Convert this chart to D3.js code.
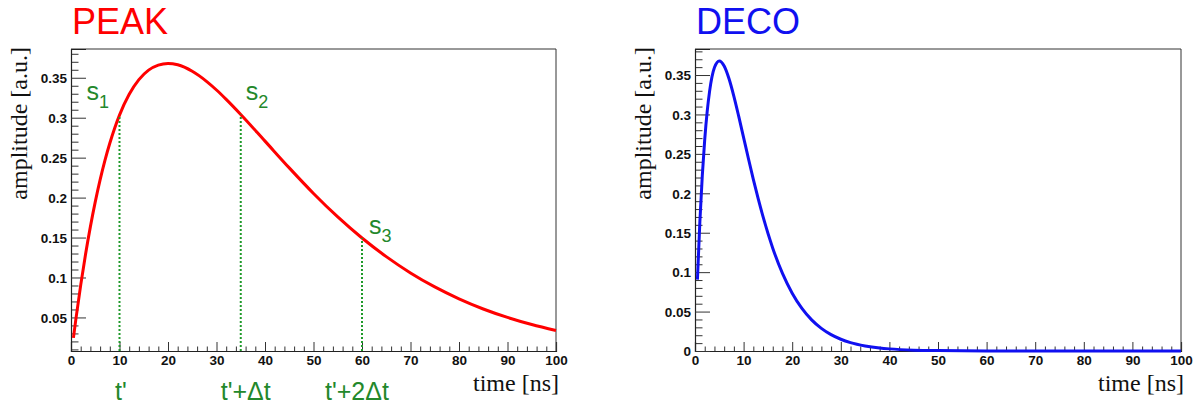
<!DOCTYPE html>
<html>
<head>
<meta charset="utf-8">
<script src="https://cdn.jsdelivr.net/npm/d3@7"></script>
<style>
  html, body { margin: 0; padding: 0; background: #fff; }
  svg { display: block; }
  .tick text { font-family: "Liberation Sans", Arial, sans-serif; font-weight: bold; font-size: 13.5px; fill: #111; }
  .serif { font-family: "Liberation Serif", "Times New Roman", serif; font-size: 24px; fill: #111; }
  .green { font-family: "Liberation Sans", Arial, sans-serif; fill: #23882b; }
</style>
</head>
<body>
<svg id="chart" width="1198" height="412"></svg>
<script>
// PEAK mode pulse shape (time in ns, amplitude in a.u.)
const peakTime = [0.5, 1, 2, 3, 4, 5, 6, 7, 8, 9, 10, 12, 14, 16, 18, 20, 22, 25, 28, 30, 32, 35, 40, 45, 50, 55, 60, 65, 70, 75, 80, 85, 90, 95, 100];
const peakAmp  = [0.0244, 0.0476, 0.0905, 0.1291, 0.1637, 0.1947, 0.2222, 0.2466, 0.2681, 0.2869, 0.3033, 0.3293, 0.3476, 0.3595, 0.3659, 0.3679, 0.3662, 0.3581, 0.3452, 0.3347, 0.3230, 0.3041, 0.2707, 0.2372, 0.2052, 0.1758, 0.1494, 0.1261, 0.1057, 0.0882, 0.0733, 0.0606, 0.0500, 0.0411, 0.0337];

// DECO mode pulse shape
const decoTime = [0.5, 1, 1.5, 2, 2.5, 3, 4, 5, 6, 7, 8, 9, 10, 11, 12, 13, 14, 16, 18, 20, 22, 24, 26, 28, 30, 32, 35, 38, 40, 45, 50, 60, 70, 80, 90, 100];
const decoAmp  = [0.0905, 0.1637, 0.2222, 0.2681, 0.3033, 0.3293, 0.3595, 0.3679, 0.3614, 0.3452, 0.3230, 0.2975, 0.2707, 0.2438, 0.2177, 0.1931, 0.1703, 0.1304, 0.0984, 0.0733, 0.0540, 0.0395, 0.0287, 0.0207, 0.0149, 0.0106, 0.0064, 0.0038, 0.0027, 0.0011, 0.0005, 0.0001, 0, 0, 0, 0];

// Sampling points marked on the PEAK pulse
const sampleTime  = [10, 35, 60];
const sampleAmp   = [0.3033, 0.3041, 0.1494];
const sampleSub   = ["1", "2", "3"];
const sampleTimeLabels = ["t'", "t'+\u0394t", "t'+2\u0394t"];

// Axis ticks
const xMajor = [0, 10, 20, 30, 40, 50, 60, 70, 80, 90, 100];
const yMajorPeak = [0.05, 0.1, 0.15, 0.2, 0.25, 0.3, 0.35];
const yMajorDeco = [0, 0.05, 0.1, 0.15, 0.2, 0.25, 0.3, 0.35];
const yLabel = v => v === 0 ? "0" : String(+v.toFixed(2));

const svg = d3.select("#chart");

function panel(opt) {
  const g = svg.append("g");
  const x = d3.scaleLinear().domain([0, 100]).range([opt.left, opt.right]);
  const y = d3.scaleLinear().domain(opt.yDomain).range([opt.bottom, opt.top]);

  // frame (top and right edges)
  g.append("path")
    .attr("d", `M${opt.left},${opt.top}H${opt.right}V${opt.bottom}`)
    .attr("fill", "none").attr("stroke", "#333").attr("stroke-width", 1);

  // minor ticks
  const xMinor = d3.range(0, 100.001, 2).filter(v => v % 10 !== 0);
  const yMinor = d3.range(0, opt.yDomain[1], 0.01)
    .filter(v => v >= opt.yDomain[0] && Math.abs(v * 20 - Math.round(v * 20)) > 1e-6);

  const xMinorAxis = d3.axisBottom(x).tickValues(xMinor).tickSize(-4.5).tickFormat("");
  const yMinorAxis = d3.axisLeft(y).tickValues(yMinor).tickSize(-7.5).tickFormat("");
  const xAxis = d3.axisBottom(x).tickValues(xMajor).tickSize(-9).tickPadding(5).tickFormat(d3.format("d"));
  const yAxis = d3.axisLeft(y).tickValues(opt.yMajor).tickSize(-15).tickPadding(4).tickFormat(yLabel);

  [
    g.append("g").attr("transform", `translate(0,${opt.bottom})`).call(xMinorAxis),
    g.append("g").attr("transform", `translate(${opt.left},0)`).call(yMinorAxis)
  ].forEach(a => { a.select(".domain").remove(); a.selectAll("line").attr("stroke", "#333"); });

  const gx = g.append("g").attr("transform", `translate(0,${opt.bottom})`).call(xAxis);
  const gy = g.append("g").attr("transform", `translate(${opt.left},0)`).call(yAxis);
  [gx, gy].forEach(a => {
    a.select(".domain").attr("stroke", "#222").attr("stroke-width", 1.2);
    a.selectAll("line").attr("stroke", "#333");
  });
  gx.selectAll("text").attr("dy", null).attr("y", 365 - opt.bottom).attr("dominant-baseline", "auto");
  gy.selectAll("text").attr("dy", "0.35em");

  // pulse curve
  const line = d3.line().x(d => x(d[0])).y(d => y(d[1])).curve(d3.curveMonotoneX);
  g.append("path")
    .datum(d3.zip(opt.time, opt.amp))
    .attr("d", line)
    .attr("fill", "none").attr("stroke", opt.color).attr("stroke-width", 3)
    .attr("stroke-linejoin", "round");

  // titles
  g.append("text")
    .attr("x", opt.left + 1).attr("y", 34)
    .attr("font-family", "Liberation Sans, Arial, sans-serif").attr("font-size", 36)
    .attr("fill", opt.color).text(opt.title);

  g.append("text").attr("class", "serif")
    .attr("x", opt.right + 3).attr("y", 391)
    .attr("text-anchor", "end").text("time [ns]");

  g.append("text").attr("class", "serif")
    .attr("transform", `translate(${opt.left - 44},${opt.top - 2}) rotate(-90)`)
    .attr("text-anchor", "end").text("amplitude [a.u.]");

  return { g, x, y };
}

const peak = panel({
  left: 71, right: 556, top: 49, bottom: 351,
  yDomain: [0.008, 0.386], yMajor: yMajorPeak,
  time: peakTime, amp: peakAmp, color: "#ff0000", title: "PEAK"
});

panel({
  left: 695, right: 1181, top: 49, bottom: 351,
  yDomain: [0, 0.383], yMajor: yMajorDeco,
  time: decoTime, amp: decoAmp, color: "#1010f0", title: "DECO"
});

// sampling markers on the PEAK pulse
const sLabelOffset = [[-33, -15], [5, -14], [7, -4]];
const tLabelOffset = [-4.5, -20, -37];
sampleTime.forEach((t, i) => {
  const px = peak.x(t), py = peak.y(sampleAmp[i]);
  peak.g.append("line")
    .attr("x1", px).attr("x2", px)
    .attr("y1", 351).attr("y2", py)
    .attr("stroke", "#1f9a2a").attr("stroke-width", 2)
    .attr("stroke-dasharray", "2,2");

  const s = peak.g.append("text").attr("class", "green")
    .attr("x", px + sLabelOffset[i][0]).attr("y", py + sLabelOffset[i][1])
    .attr("font-size", 25);
  s.append("tspan").text("s");
  s.append("tspan").attr("font-size", 18).attr("dy", 8).text(sampleSub[i]);

  peak.g.append("text").attr("class", "green")
    .attr("x", px + tLabelOffset[i]).attr("y", 400)
    .attr("font-size", 25).text(sampleTimeLabels[i]);
});
</script>
</body>
</html>
